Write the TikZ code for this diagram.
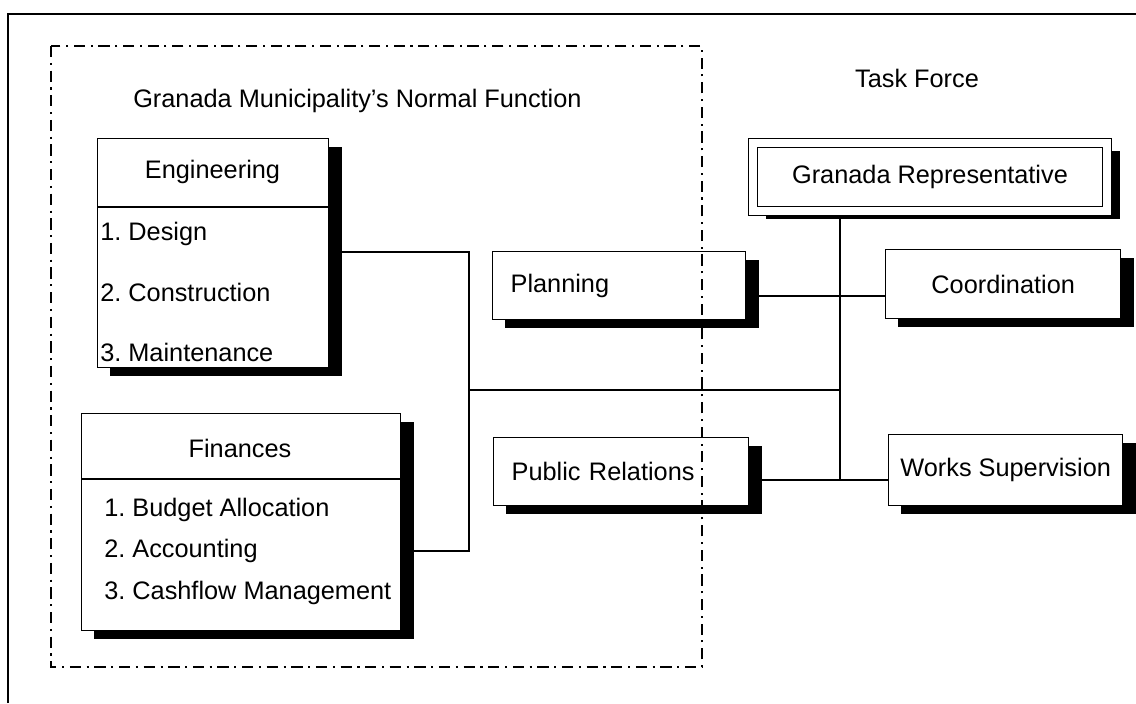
\documentclass[tikz,border=0pt]{standalone}
\usepackage{fontspec}
\setmainfont{Liberation Sans}
\usetikzlibrary{shadows,calc}
\tikzset{
  doboz/.style={draw,line width=0.9pt,fill=white,inner sep=0pt,
    drop shadow={shadow xshift=0.32cm,shadow yshift=-0.2cm,fill=black,opacity=1}},
  ket/.style={doboz,double,double distance=0.2cm,line width=0.8pt},
  bent/.style={inner xsep=0.45cm,align=left},
  tetel/.style={anchor=west,inner sep=0pt},
  vonal/.style={line width=0.9pt},
  keret/.style={line width=1.3pt},
  pontvonal/.style={line width=1.2pt,dash pattern=on 8pt off 4pt on 1.5pt off 4pt},
}

\begin{document}
\begin{tikzpicture}[x=0.025cm,y=-0.025cm,font=\fontsize{18}{21}\selectfont\frenchspacing]
  \useasboundingbox (0,0) rectangle (1136,703);
  \draw[keret] (8,703) -- (8,14) -- (1136,14);
  \node[anchor=west,inner sep=0pt] (cim) at (133,101) {Granada Municipality's Normal Function};
  \node (task) at (917,78) {Task Force};
  % Engineering
  \node[doboz,anchor=north west,minimum width=5.775cm,minimum height=5.725cm] (eng) at (97,138) {};
  \node (engc) at (212.5,172) {Engineering};
  \draw[vonal] (eng.west |- 0,207) -- (eng.east |- 0,207);
  \node[tetel] (des) at (100,234) {1. Design};
  \node[tetel] (con) at (100,292) {2. Construction};
  \node[tetel] (mai) at (100,352) {3. Maintenance};
  % Finances
  \node[doboz,anchor=north west,minimum width=7.975cm,minimum height=5.425cm] (fin) at (81,413) {};
  \node (finc) at (240,448) {Finances};
  \draw[vonal] (fin.west |- 0,479) -- (fin.east |- 0,479);
  \node[tetel] (bud) at (104,510) {1. Budget Allocation};
  \node[tetel] (acc) at (104,551) {2. Accounting};
  \node[tetel] (cas) at (104,593) {3. Cashflow Management};
  % task force
  \node[doboz,bent,anchor=north west,text width=5.425cm,minimum height=1.7cm] (plan) at (492,251) {Planning};
  \node[doboz,bent,anchor=north west,text width=5.475cm,minimum height=1.7cm] (pr) at (493,437) {Public Relations};
  \node[ket,minimum width=8.85cm,minimum height=1.7cm] (rep) at (930,177) {Granada Representative};
  \node[doboz,anchor=north west,minimum width=5.875cm,minimum height=1.725cm] (coord) at (885,249) {Coordination};
  \node[doboz,anchor=north west,minimum width=5.85cm,minimum height=1.775cm] (works) at (888,434) {Works Supervision};
  % connectors
  \coordinate (bal) at (469,390);
  \coordinate (jobb) at (840,390);
  \draw[vonal] (eng.east |- 0,252) -| (bal);
  \draw[vonal] (fin.east |- acc) -| (bal);
  \draw[vonal] (bal) -- (jobb);
  \draw[vonal,shorten <=1.3mm] (rep.south -| jobb) -- (jobb |- 0,480);
  \draw[vonal] (plan.east |- 0,296) -- (coord.west |- 0,296);
  \draw[vonal] (pr.east |- 0,480) -- (works.west |- 0,480);
  \draw[pontvonal] (51,46) rectangle (702,667);
\end{tikzpicture}
\end{document}
